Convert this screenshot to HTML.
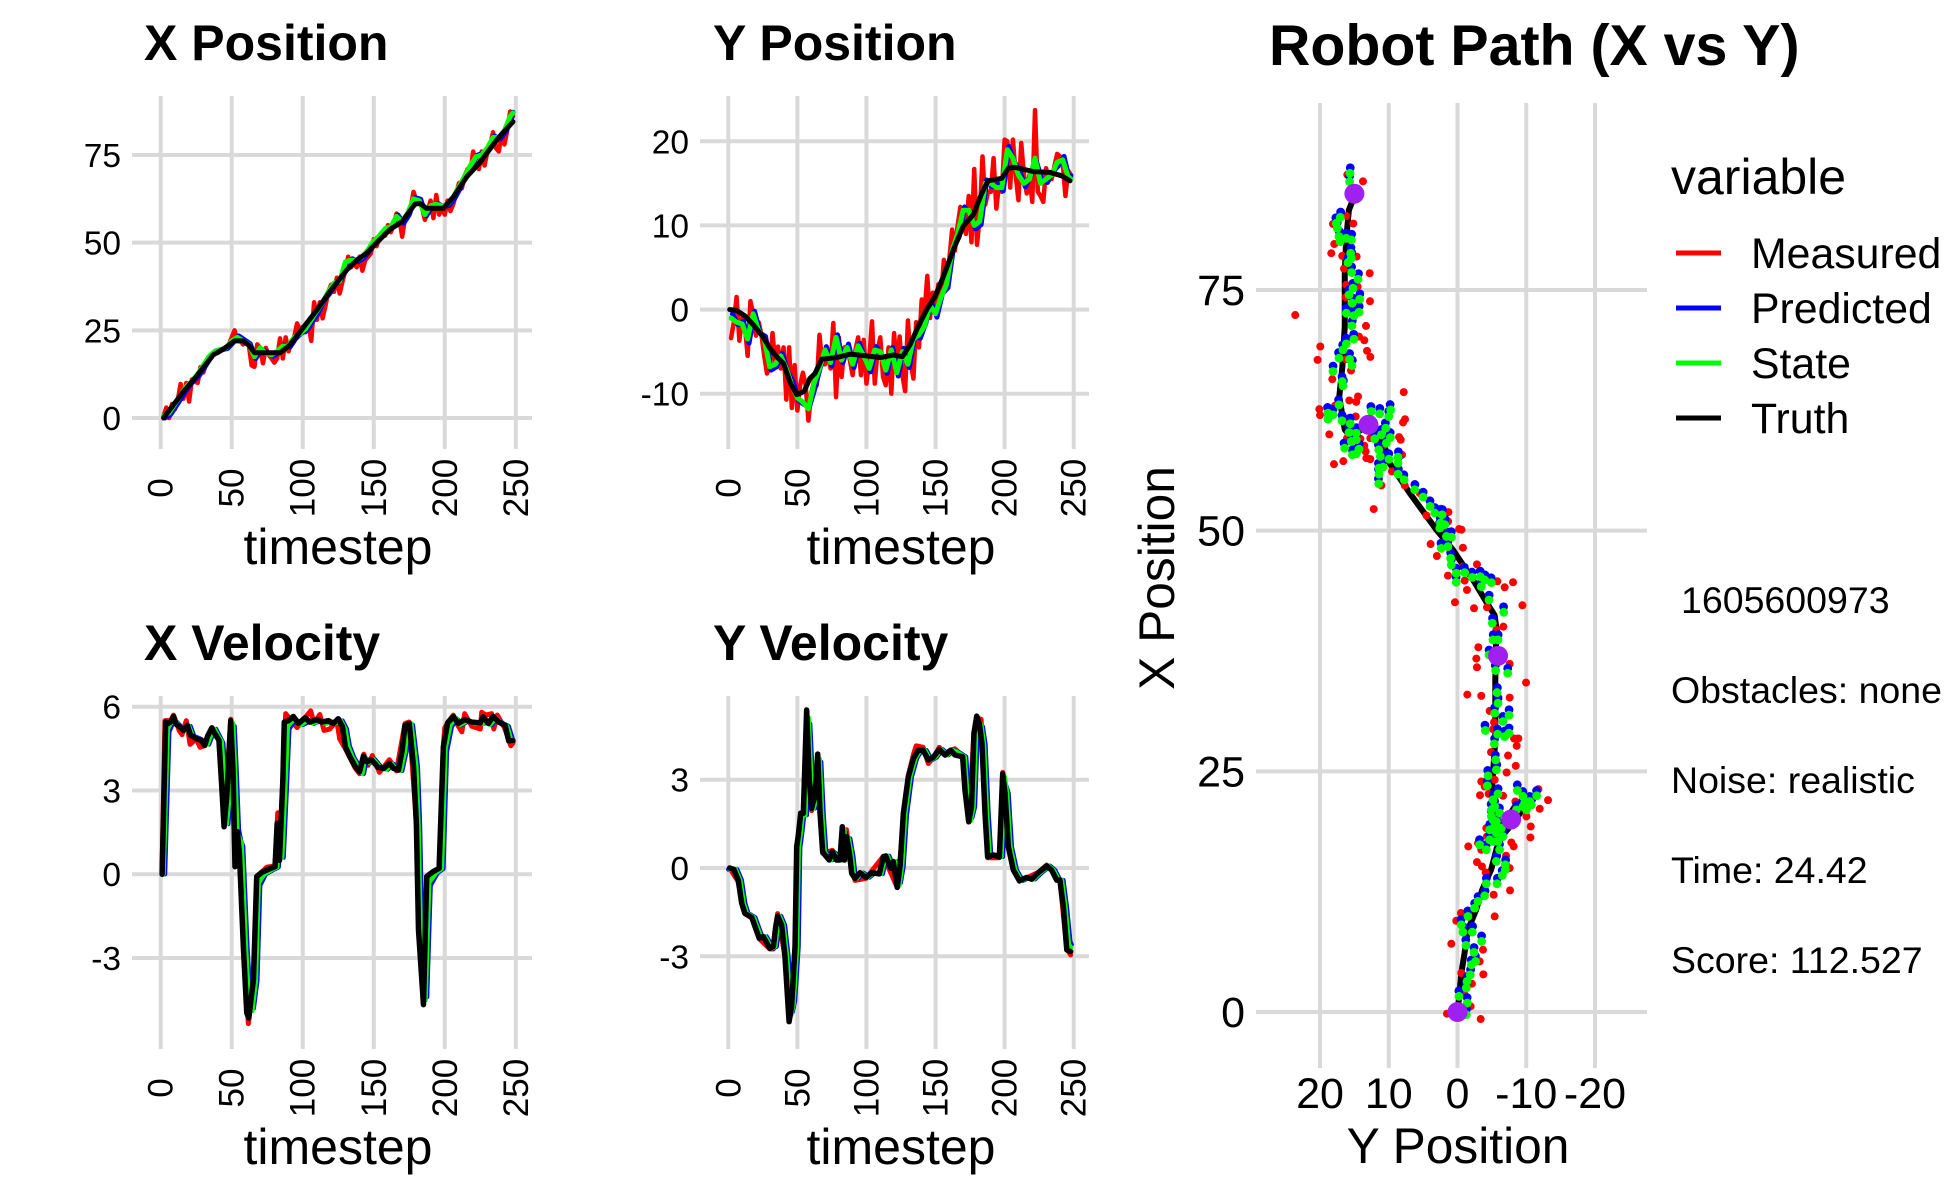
<!DOCTYPE html>
<html lang="en">
<head>
<meta charset="utf-8">
<title>Robot Path Dashboard</title>
<style>
html,body{margin:0;padding:0;background:#fff;width:1950px;height:1200px;overflow:hidden}
svg{display:block;font-family:"Liberation Sans",sans-serif}
text{fill:#000}
.title{font-size:50px;font-weight:700}
.axt{font-size:50px}
</style>
</head>
<body>
<svg id="chart" xmlns="http://www.w3.org/2000/svg" width="1950" height="1200" viewBox="0 0 1950 1200">
<rect x="0" y="0" width="1950" height="1200" fill="#fff"/>
<g id="panels"></g>
<text class="title" x="144" y="60">X Position</text>
<text class="title" x="713" y="60">Y Position</text>
<text class="title" x="144" y="660">X Velocity</text>
<text class="title" x="713" y="660">Y Velocity</text>
<text class="axt" x="338" y="564" text-anchor="middle">timestep</text>
<text class="axt" x="901" y="564" text-anchor="middle">timestep</text>
<text class="axt" x="338" y="1164" text-anchor="middle">timestep</text>
<text class="axt" x="901" y="1164" text-anchor="middle">timestep</text>
<text x="1269" y="65" font-size="57.3" font-weight="700">Robot Path (X vs Y)</text>
<text x="1458" y="1163" font-size="49.7" text-anchor="middle">Y Position</text>
<text transform="translate(1174,578) rotate(-90)" font-size="49.7" text-anchor="middle">X Position</text>
<g>
<text x="1671" y="194" font-size="50">variable</text>
<line x1="1676" x2="1721" y1="253" y2="253" stroke="#ff0000" stroke-width="5"/>
<text x="1751" y="268" font-size="42.8">Measured</text>
<line x1="1676" x2="1721" y1="308" y2="308" stroke="#0000ff" stroke-width="5"/>
<text x="1751" y="323" font-size="42.8">Predicted</text>
<line x1="1676" x2="1721" y1="363" y2="363" stroke="#00ff00" stroke-width="5"/>
<text x="1751" y="378" font-size="42.8">State</text>
<line x1="1676" x2="1721" y1="418" y2="418" stroke="#000000" stroke-width="5"/>
<text x="1751" y="433" font-size="42.8">Truth</text>
</g>
<g font-size="37.5">
<text x="1681" y="613">1605600973</text>
<text x="1671" y="703">Obstacles: none</text>
<text x="1671" y="793">Noise: realistic</text>
<text x="1671" y="883">Time: 24.42</text>
<text x="1671" y="973">Score: 112.527</text>
</g>
</svg>
<script>
const timeTicks=[0,50,100,150,200,250];
const xPosTicks=[0,25,50,75];
const yPosTicks=[-10,0,10,20];
const xVelTicks=[-3,0,3,6];
const yVelTicks=[-3,0,3];
const pathYTicks=[20,10,0,-10,-20];
const pathXTicks=[0,25,50,75];

/* position panels: truth = [timestep,value]; measured sampled every 2 steps from t=2; state/predicted every 4 steps from t=2 */
const xPosTruth=[[2,0],[15,7],[25,11.8],[37,18],[45,19.9],[52,22],[58,22],[62,20.8],[66,18.6],[84,18.6],[91,20.8],[100,25.6],[110,30.8],[119,36],[131,42.2],[138,45],[145,47],[152,50],[161.5,53.8],[170,56],[179,61],[182.6,61.2],[187,59.8],[199,59.8],[206,63],[215.5,68.8],[225,73],[236.6,79.3],[248,84.5]];
const xPosMeasured=[0.5,3,0,4,2.5,5,9.7,5.5,10,4.7,11,10.5,10,14.5,13,15.5,16.5,18,19,18.5,19,19.5,19.8,21,23,25,22,22,21,21.5,21,15,14.6,21,20,15.6,20,18,17,15.8,17,22.7,17,23,19,22,23,27,25,26,24.5,27,22,33,28,33,28.4,32,36,38,36,40,35.5,39,42,46,43,44,43,46,42,45,46,47,51,49,52,53,52,55,53,55,58.3,57,51.7,57,58,60,64.5,62,62,60,56.5,59,62,57,63.6,58,60,58,62,59,61,64,67,65.5,69,71,70,76,72,71,76,72,76,78,81.5,77,76,81,78,82,87.4,86];
const xPosState=[0.5,1.5,4,6.5,9,10.5,12.5,15,17.5,19,19.5,20,22,23,22,21,17.5,20,18.5,18,19,20.5,20.5,23,24,25.5,28,30.5,33,36,38.5,39,44.5,45,45,46,48,50.5,52,54,54.5,57.5,56,58.5,62.5,62,58,60.5,61,60.5,61,63,66,69,72,74.5,75,77,80,80,82,86,87];
const xPosPredicted=[0,1,3.5,6,8.5,10.5,12,14.5,17,19.2,19.5,19.8,21.5,23.4,22.3,21.2,17,19.6,18.8,17.6,18.6,20.8,20.2,22.6,24.2,25,27.5,30,33.5,35.5,38,39.4,44,45.4,44.6,45.6,47.6,50,52.2,53.6,55,57.9,55.5,58,62.8,62.4,57.6,60.2,61.2,60.2,60.6,62.6,65.6,69.4,71.6,75,75.4,77.4,80.4,79.6,81.6,85.6,87.2];

const yPosTruth=[[1,0],[6,-0.1],[12,-0.75],[18,-1.8],[25,-3.2],[30,-4.6],[35,-5.6],[40,-6.4],[44.6,-8.6],[49.5,-10.1],[54.8,-9.75],[59,-8.2],[62.7,-7.6],[67.6,-5.9],[78.4,-5.7],[88,-5.3],[100,-5.5],[110,-5.7],[119.5,-5.4],[126,-5.6],[131.5,-4.2],[137.5,-2],[143.6,0],[149.6,1.55],[155.6,3.9],[162.9,7.1],[170,9.9],[177.4,11.3],[183.4,13.8],[188,15.3],[198,15.6],[202.7,16.8],[207.5,16.9],[220.8,16.4],[232.9,16.3],[241.3,15.9],[247.3,15.3]];
const yPosMeasured=[-3.4,-1.5,1.5,-3.7,-1,-2,-5.5,1,-0.5,-3.1,-1.5,-3,-5.5,-7.6,-6.8,-2.8,-6.5,-4.4,-7,-4.5,-10.7,-4.5,-11.7,-6.6,-12,-9,-7.5,-9,-13.2,-10,-8.5,-9,-3,-6.5,-6.5,-5,-7,-1.6,-10.4,-3.3,-8,-4.5,-4.4,-6,-7.8,-4.8,-3.3,-7.8,-3.6,-8.8,-6,-1.4,-8.8,-5,-3.3,-8,-9,-4.5,-10,-2.8,-7.5,-3.2,-7.8,-9.7,-1.3,-6.3,-8.2,-1.5,-4.5,1.2,-0.5,4,-1,2,-0.3,3,1.4,5.9,3.5,6,9.5,7,10,12.2,11,9,13.5,8,16.7,7.7,11,18.2,12.5,14,14,18,12,15,14,20.2,20,14.5,20.2,16,13,19.8,16,13.8,16,12.8,23.7,14,13.5,12.8,16.8,15.5,15.5,17,18.5,18.2,17.5,13.5,16.5,16];
const yPosState=[-1,-1.5,-1.7,-3.5,-0.5,-2.5,-3.5,-6.8,-6.5,-5.5,-7,-9,-10.5,-11,-11.8,-8.8,-7,-4.8,-6.3,-3.3,-6,-4.5,-6.5,-4.3,-5.5,-7,-4.8,-5,-7.2,-4.8,-7.5,-5,-6.5,-3.5,-3,-2,0.5,-0.5,1.5,3,7,9,11.8,11.8,10,10.5,15,15,14.5,14.5,19,18,16,15,15.5,18,15,15.5,16,17.5,17.8,15.8,15.5];
const yPosPredicted=[-0.5,-1.8,-1.4,-4,-0.2,-2.8,-3.2,-7.2,-6.8,-5.2,-7.4,-8.6,-10.8,-11.3,-11.4,-9.2,-6.6,-4.4,-6.7,-3,-6.3,-4.1,-6.9,-4,-5.9,-7.4,-4.4,-5.4,-7.6,-4.5,-7.9,-4.6,-6.9,-3.1,-3.4,-1.6,0.9,-0.9,1.9,2.6,7.4,8.6,12.2,11.4,9.6,10.1,15.4,14.6,14.9,14.1,19.4,17.6,16.4,14.6,15.9,17.6,15.4,15.1,16.4,17.1,18.2,15.4,15.9];

const xVelTruth=[[1,0],[3.5,5.45],[5.4,5.4],[7,5.45],[9,5.65],[11,5.37],[13.6,5.27],[16,5.15],[18.8,5.33],[21,4.98],[25,4.86],[28.4,4.8],[31,4.62],[33,4.94],[36,5.24],[38,5.04],[41,4.8],[43,3.13],[44.6,1.7],[46.5,2.78],[49.3,5.5],[51,3.6],[52.3,0.27],[54,1.52],[55.4,0.75],[58.2,-2.6],[60.6,-4.97],[62,-5.15],[65.3,-3.78],[67.6,-0.08],[71,0.06],[76,0.18],[80.5,0.27],[82,1.82],[83.6,0.5],[86,3.37],[87,5.45],[90,5.5],[93.4,5.65],[97,5.4],[101.6,5.6],[105,5.45],[110,5.54],[113.4,5.45],[118,5.5],[121.6,5.4],[125,5.57],[128,5.28],[130,4.56],[133.3,4.2],[137,3.85],[140,3.67],[142.7,4.23],[145,4.03],[148.6,4.09],[153,3.83],[157,3.79],[161,3.97],[164,3.79],[167.4,3.73],[170,4.44],[172,5.33],[175,5.4],[178,3.85],[180,1.82],[181.5,-2],[185,-4.67],[187.3,-0.08],[192,0.1],[196,0.21],[199,4.56],[202,5.42],[206,5.64],[209.6,5.4],[214,5.54],[219,5.45],[225,5.42],[227,5.64],[230.7,5.4],[234,5.65],[238,5.45],[242.5,5.33],[245,4.78],[248,4.78]];
const xVelState=[[2,0],[5,5.2],[7,5.4],[10.5,5.5],[13,5.3],[15,5.25],[17.5,5.15],[20,5.3],[22.5,4.95],[27,4.85],[30,4.75],[33,4.65],[36,5.05],[38,5.2],[40,5],[43,4.75],[45,3.1],[46.5,1.8],[48.5,2.8],[51,5.4],[52.5,3.6],[54,1.5],[55.5,1.3],[57,1.1],[60,-2.6],[62.5,-4.9],[64.5,-4.9],[67,-3.8],[69,-0.3],[73,0],[78,0.15],[82,0.25],[84,1.6],[85.5,0.6],[88,3.4],[89.5,5.3],[92,5.45],[95,5.55],[99,5.35],[103,5.5],[107,5.4],[112,5.5],[115,5.4],[120,5.45],[123,5.4],[127,5.5],[130,5.2],[132,4.6],[135,4.2],[139,3.85],[142,3.6],[144,4.2],[147,4],[150,4.1],[155,3.8],[159,3.75],[163,3.95],[166,3.75],[169,3.7],[172,4.4],[174,5.3],[176.5,5.4],[180,3.85],[181.5,1.8],[183,-2],[186.5,-4.5],[189,-0.3],[194,0.05],[198,0.2],[200.5,4.5],[204,5.35],[208,5.6],[211,5.35],[216,5.5],[221,5.4],[227,5.4],[229,5.55],[232,5.35],[236,5.6],[240,5.4],[244,5.3],[247,4.75],[248,4.75]];
const xVelPredicted=[[3,0],[6,5.1],[8,5.35],[11.5,5.45],[14,5.3],[16,5.25],[18.5,5.15],[21,5.3],[23.5,4.95],[28,4.85],[31,4.75],[34,4.65],[37,5.05],[39,5.2],[41,5],[44,4.7],[46,3.1],[47.5,1.8],[49.5,2.8],[52,5.3],[53.5,3.6],[55,1.6],[56.5,1.2],[58,1],[61,-2.6],[63.5,-4.8],[65.5,-4.8],[68,-3.8],[70,-0.4],[74,0],[79,0.15],[83,0.25],[85,1.5],[86.5,0.6],[89,3.4],[90.5,5.2],[93,5.4],[96,5.5],[100,5.35],[104,5.45],[108,5.4],[113,5.5],[116,5.4],[121,5.45],[124,5.4],[128,5.5],[131,5.2],[133,4.6],[136,4.2],[140,3.85],[143,3.6],[145,4.15],[148,4],[151,4.1],[156,3.8],[160,3.75],[164,3.95],[167,3.75],[170,3.7],[173,4.4],[175,5.25],[177.5,5.35],[181,3.85],[182.5,1.8],[184,-2],[187.5,-4.4],[190,-0.4],[195,0.05],[199,0.2],[201.5,4.4],[205,5.3],[209,5.55],[212,5.35],[217,5.5],[222,5.4],[228,5.4],[230,5.5],[233,5.35],[237,5.55],[241,5.4],[245,5.3],[248,4.8]];
const xVelMeasured=[[1,0.3],[3,5.5],[7,5.5],[9,5.7],[13,5.15],[15,5],[18,5.5],[20.7,4.65],[25,4.85],[27.7,4.55],[31,4.6],[36,5.25],[41,4.8],[44.6,1.8],[49.3,5.55],[52.3,0.4],[56,1.3],[58.5,-2.6],[61.7,-5.35],[65.3,-3.8],[67.6,-0.1],[74.6,0.25],[80.5,0.3],[82.4,2.2],[83.6,0.6],[88,5.75],[92,5.5],[96,5.25],[105.6,5.85],[108,5.4],[112,5.72],[115,5.15],[119,5.2],[124,5.5],[126,4.85],[130,4.5],[137,3.8],[140,3.6],[143,4.3],[146,3.9],[149,4.25],[154,3.65],[161,4.1],[166,3.7],[172,5.4],[175,5.45],[180,1.8],[185,-4.6],[187.3,-0.1],[196,0.2],[199,4.6],[200,5.25],[203,5.5],[206,5.7],[209,5.35],[212,5.1],[214,5.75],[219,5.3],[225,5.2],[226,5.8],[229,5.7],[233,5.75],[234.5,5.2],[237,5.7],[242,5.25],[246.5,4.6],[248,4.7]];

const yVelTruth=[[1,0],[4,-0.05],[7.2,-0.41],[9.7,-1.2],[12,-1.54],[17,-1.68],[22.4,-2.39],[25.3,-2.33],[30,-2.73],[32.6,-2.67],[34.3,-2],[35.7,-1.63],[38.6,-1.94],[41,-3],[44,-5.22],[45.8,-4.71],[48.3,-2.67],[49.5,0.72],[50.7,1.12],[52.4,1.86],[54.3,1.86],[56.7,5.37],[58.6,3],[60.3,2.03],[62.7,2.48],[64.7,3.87],[66.4,1.86],[68.3,0.55],[70,0.44],[73,0.27],[75.3,0.55],[78.4,0.27],[80.8,0.27],[82.5,1.4],[84,0.27],[85.7,1.06],[88,0.38],[89.3,-0.18],[91.7,-0.35],[95.3,-0.16],[99.7,-0.32],[103.8,-0.16],[109.3,-0.2],[112.2,0.38],[114,0.41],[117.5,-0.01],[119.4,0.22],[122.3,-0.66],[124.3,0.05],[126.7,1.86],[130.3,3.1],[134,3.72],[137.5,4],[141,4],[144.8,3.67],[148.4,3.76],[152.7,4.03],[156.9,3.84],[161,4],[164,3.84],[169.6,3.78],[171.3,2.65],[174,1.57],[176,2.08],[177.8,4.57],[179.8,5.16],[181.7,4.91],[183.6,4.23],[185.8,1.86],[187.7,0.38],[191.8,0.44],[196.2,0.38],[198.6,3.2],[200.3,2.54],[202.7,0.72],[206.3,-0.07],[210.7,-0.43],[216,-0.32],[219.6,-0.38],[224.4,-0.16],[230.5,0.07],[234,-0.07],[237.7,-0.41],[240,-0.41],[242.5,-1.31],[245,-2.78],[247.8,-2.84]];
const yVelState=[[1,-0.05],[5.5,-0.05],[8.7,-0.41],[11.2,-1.2],[13.5,-1.54],[18.5,-1.68],[24,-2.39],[26.8,-2.33],[31.5,-2.73],[34,-2.67],[35.8,-2],[37.2,-1.63],[40,-1.94],[42.5,-3],[45.5,-5],[47.3,-4.6],[49.8,-2.67],[51,0.7],[52.2,1.1],[53.9,1.8],[55.8,1.8],[58.2,5.1],[60.1,3],[61.8,2.03],[64.2,2.45],[66.2,3.7],[67.9,1.86],[69.8,0.55],[71.5,0.44],[74.5,0.27],[76.8,0.5],[79.9,0.27],[82.3,0.27],[84,1.3],[85.5,0.3],[87.2,1],[89.5,0.38],[90.8,-0.18],[93.2,-0.35],[96.8,-0.16],[101.2,-0.32],[105.3,-0.16],[110.8,-0.2],[113.7,0.38],[115.5,0.41],[119,-0.01],[120.9,0.22],[123.8,-0.6],[125.8,0.05],[128.2,1.86],[131.8,3.1],[135.5,3.72],[139,4],[142.5,4],[146.3,3.67],[149.9,3.76],[154.2,4.03],[158.4,3.84],[162.5,4],[165.5,3.95],[171.1,3.78],[172.8,2.65],[175.5,1.6],[177.5,2.08],[179.3,4.5],[181.3,5],[183.2,4.85],[185.1,4.2],[187.3,1.86],[189.2,0.4],[193.3,0.44],[197.7,0.38],[200.1,3.1],[201.8,2.54],[204.2,0.72],[207.8,-0.07],[212.2,-0.43],[217.5,-0.32],[221.1,-0.38],[225.9,-0.16],[232,0.07],[235.5,-0.07],[239.2,-0.41],[241.5,-0.41],[244,-1.31],[246.5,-2.6],[248,-2.7]];
const yVelPredicted=[[0,-0.05],[6.5,-0.05],[9.7,-0.41],[12.2,-1.2],[14.5,-1.54],[19.5,-1.68],[25,-2.39],[27.8,-2.33],[32.5,-2.73],[35,-2.67],[36.8,-2],[38.2,-1.63],[41,-1.94],[43.5,-3],[46.5,-4.9],[48.3,-4.5],[50.8,-2.67],[52,0.7],[53.2,1.1],[54.9,1.8],[56.8,1.8],[59.2,4.9],[61.1,3],[62.8,2.03],[65.2,2.45],[67.2,3.6],[68.9,1.86],[70.8,0.55],[72.5,0.44],[75.5,0.27],[77.8,0.5],[80.9,0.27],[83.3,0.27],[85,1.2],[86.5,0.3],[88.2,1],[90.5,0.38],[91.8,-0.18],[94.2,-0.35],[97.8,-0.16],[102.2,-0.32],[106.3,-0.16],[111.8,-0.2],[114.7,0.38],[116.5,0.41],[120,-0.01],[121.9,0.22],[124.8,-0.5],[126.8,0.05],[129.2,1.8],[132.8,3.1],[136.5,3.72],[140,4],[143.5,4],[147.3,3.67],[150.9,3.76],[155.2,4.03],[159.4,3.84],[163.5,4],[166.5,3.95],[172.1,3.78],[173.8,2.65],[176.5,1.7],[178.5,2.08],[180.3,4.4],[182.3,4.9],[184.2,4.8],[186.1,4.2],[188.3,1.86],[190.2,0.45],[194.3,0.44],[198.7,0.38],[201.1,2.8],[202.8,2.54],[205.2,0.72],[208.8,-0.07],[213.2,-0.43],[218.5,-0.32],[222.1,-0.38],[226.9,-0.16],[233,0.07],[236.5,-0.07],[240.2,-0.41],[242.5,-0.41],[245,-1.31],[247.5,-2.5],[248.5,-2.6]];
const yVelMeasured=[[1,0],[7,-0.45],[12,-1.55],[17,-1.7],[22.4,-2.4],[30,-2.75],[32.6,-2.75],[35.7,-1.55],[41,-3],[44,-5.2],[48.3,-2.7],[50.7,1.1],[54.3,1.8],[56.7,5.3],[58.6,3.2],[60.3,1.95],[62.7,2.3],[64.7,3.85],[68.3,0.5],[75.3,0.6],[80.8,0.3],[84,0.3],[85.5,1.3],[88,0.4],[91.7,-0.42],[99.7,-0.35],[112.2,0.4],[122.3,-0.66],[130.3,3.15],[134,3.85],[136,4.15],[141,4.1],[144.8,3.55],[148.4,3.75],[152.7,4.1],[156.9,3.9],[161,4],[164,4.05],[169.6,3.8],[174,1.6],[177.8,4.6],[180,5.1],[183,5.05],[185.8,1.9],[187.7,0.35],[196.2,0.35],[198.6,3.25],[202.7,0.7],[210.7,-0.45],[224.4,-0.15],[230.5,0.1],[240,-0.4],[245,-2.75],[247.8,-2.95]];

/* path panel points: [y position, x position] */
const pathTruth=[[0,0],[-0.3,2],[-0.55,4],[-1,6],[-1.5,8.5],[-2.7,10.6],[-3.6,12.7],[-4.9,14.8],[-5.7,17],[-6.5,18.3],[-8.5,20],[-10,21.7],[-9.7,22.2],[-8.2,21.2],[-7.4,20.3],[-5.9,18.6],[-5.6,18.6],[-5.1,21],[-5.07,23.8],[-5.5,28.3],[-5.5,34.5],[-5.65,39.9],[-5.4,41.2],[-4.19,42.6],[-2.25,44.9],[0.66,48],[3.07,50.1],[6.95,53.9],[9.86,57],[10.6,58.7],[11.6,60.1],[13,61],[15,60],[15.6,59.8],[16.4,60.5],[17.2,63.9],[16.75,67],[16.4,71.2],[16.4,76.7],[16.2,80.2],[15.8,83.3],[15.2,84.4]];
const pathMeasured=[[16.03,86.98],[13.75,86.29],[16.17,82.69],[18.11,81.86],[15.15,81.9],[17.92,79.78],[18.36,78.82],[16.76,78.54],[14.67,78.47],[16.51,77.22],[12.77,76.74],[16.17,75.53],[14.52,75.36],[16.27,74.25],[12.73,73.83],[23.6,72.4],[13.31,71.27],[14.33,70.16],[13.55,69.78],[19.96,69.13],[13.16,68.68],[12.68,68.05],[20.35,67.74],[16.27,67.81],[15.49,66.63],[18.21,65.74],[7.82,64.39],[14.47,63.94],[15.74,63.52],[14.72,63.38],[17.82,62.97],[20.1,62.62],[20,62],[16.42,61.69],[14.81,61.86],[7.63,61.58],[7.92,61.24],[18.65,60],[8.5,59.72],[8.26,59.44],[16.07,59.61],[14.13,59.54],[12.68,59.61],[13.55,58.82],[13.36,58.23],[8.07,57.88],[13.26,57.54],[12.68,57.43],[16.61,57.22],[17.97,56.91],[10.59,58.92],[11.07,54.7],[9.52,56.15],[7.68,54.7],[12.19,52.24],[4.52,51.58],[2.43,52.28],[1.32,51.93],[-0.24,50.17],[-0.58,50.1],[5.49,53.9],[4.04,53.04],[1.37,50.96],[3.91,48.61],[-0.79,48.23],[3,47.37],[-2.83,46.5],[1.39,45.33],[-0.79,46.26],[-1.04,44.81],[-5.8,44.74],[-8.08,44.64],[-6.86,44.12],[-1.38,43.84],[0.37,42.56],[-2.4,41.94],[-9.44,42.25],[-4.29,42.04],[-6.67,40.03],[-5.65,39.69],[-3.03,37.89],[-2.74,36.71],[-2.83,35.81],[-7.59,36.16],[-9.97,34.22],[-1.43,32.97],[-3.46,32.84],[-7.59,32.66],[-4.68,31.28],[-5.31,30.1],[-5.16,29.38],[-8.22,28.41],[-8.85,28.41],[-8.61,27.65],[-4.87,26.99],[-7.35,26.64],[-8.47,25.57],[-7.15,24.88],[-3.46,23.94],[-5.41,24.12],[-3.95,23.42],[-3.27,22.52],[-4.53,22.66],[-6.62,22.46],[-11.77,23.15],[-13.17,22.01],[-11.96,21.11],[-8.42,21.87],[-10.02,20.31],[-10.65,19.27],[-10.6,18.13],[-4.19,19.1],[-4.29,18.24],[-1.57,17.2],[-2.98,17.54],[-3.46,16.85],[-7.83,17.61],[-8.17,17.2],[-7.06,16.23],[-2.83,15.57],[-3.56,15.12],[-4.1,14.5],[-7.59,14.95],[-7.64,12.63],[-5.26,12.18],[-5.41,9.93],[-0.5,10.28],[0.18,9.48],[0.9,7.09],[-3.71,6.47],[-3.22,5.26],[-3.76,3.91],[-0.55,4.05],[-2.1,2.94],[-1.04,1.8],[-1.91,0.59],[-3.37,-0.73],[1.53,-0.18]];
const pathState=[[15.64,87.12],[15.69,86.25],[17.05,82.55],[17.63,81.93],[17.48,81.41],[17.24,80.55],[17.05,80.03],[16.17,80.37],[15.44,80.2],[15.54,78.82],[15.44,78.3],[15.93,77.85],[15.4,76.81],[14.47,76.12],[15.2,75.18],[15.78,74.49],[15.3,73.63],[14.23,74.04],[14.33,72.69],[16.17,72.59],[15.06,72.34],[15.35,71.27],[15.06,69.89],[16.17,69.4],[16.66,68.78],[17.24,67.92],[15.69,67.81],[15.35,67.15],[18.11,66.53],[16.76,65.49],[16.66,65.04],[17.24,63.07],[18.84,62.21],[18.11,62.03],[18.84,61.58],[16.8,61.41],[15.59,61.1],[12.53,62.38],[11.32,62.14],[9.72,62.55],[10.01,61.86],[10.44,60.65],[11.07,59.96],[9.76,59.68],[10.35,59.09],[12.05,59.54],[15.78,60.2],[14.72,60.13],[15.44,59.27],[14.72,59.44],[16.42,58.57],[14.33,58.47],[14.72,57.98],[15.3,57.88],[11.46,58.4],[11.22,57.71],[9.96,57.43],[8.65,57.64],[8.65,57.02],[11.42,56.5],[10.83,56.6],[11.42,55.87],[11.46,54.87],[8.65,55.87],[7.77,55.29],[6.22,54.25],[5.01,53.49],[3.99,52.52],[3.31,51.83],[2.24,51.65],[2.48,50.79],[2.58,50.27],[1.85,50.62],[1.61,49.4],[0.88,49.33],[2.36,48.16],[1.39,48.34],[1,47.13],[0.9,46.43],[0.18,45.57],[-1.04,45.64],[-2.15,45.15],[-3.32,45.22],[-3.95,44.88],[-4.92,44.6],[-3.46,44.19],[0.18,44.64],[-4.58,42.8],[-6.72,41.52],[-5.07,40.38],[-5.16,38.65],[-5.89,38.65],[-4.58,37.09],[-5.55,35.47],[-7.3,35.19],[-5.75,33.18],[-5.89,32.07],[-5.41,31.04],[-7.49,30.83],[-6.62,30.17],[-4.05,29.24],[-5.84,28.86],[-7.49,28.96],[-6.86,28.61],[-5.36,27.85],[-5.55,26.19],[-5.65,25.15],[-4.44,24.53],[-4.34,23.5],[-5.89,22.66],[-8.71,23.01],[-9.53,22.39],[-10.75,21.52],[-11.52,22.46],[-10.02,21],[-4.92,21],[-5.65,19.79],[-5.65,18.58],[-5.16,17.71],[-3.22,17.37],[-4.19,16.85],[-6.13,16.85],[-5.65,15.64],[-6.96,15.29],[-6.96,14.77],[-6.52,14.19],[-5.75,13.32],[-4.19,13.32],[-3.95,12.07],[-2.98,11.49],[-2.49,10.79],[-1.52,9.93],[-0.55,9.06],[-0.79,8.3],[-2.15,8.3],[-1.23,6.92],[-3.51,7.33],[-2.4,6.19],[-2.64,5.26],[-2.01,4.91],[-1.86,3.87],[-1.38,3.18],[-1.28,2.49],[-0.21,1.63],[-1.43,0.93],[-1.28,-0.28],[-6.62,18.23],[-4.68,18.93],[-9.53,21.35],[-8.56,21],[-5.16,22.04],[-5.41,21.35],[-4.92,20.31],[-6.13,20.66],[-5.41,19.27],[-6.38,19.1],[-4.68,17.89],[-5.89,17.71],[-5.16,19.96],[-9.78,21.7],[-10.5,21.87]];
const pathPredicted=[[15.6,87.7],[15.7,86.8],[17,83.1],[17.7,82.5],[17.5,82],[17.2,81.1],[17.1,80.6],[16.2,80.9],[15.4,80.8],[15.5,79.4],[15.4,78.9],[15.9,78.4],[15.4,77.4],[14.4,76.7],[15.2,75.7],[15.8,75],[15.3,74.2],[14.2,74.6],[14.3,73.3],[16.2,73.1],[15.1,72.9],[15.3,71.8],[15.1,70.4],[16.2,70],[16.7,69.3],[17.3,68.5],[15.7,68.4],[15.3,67.7],[18.1,67.1],[16.8,66],[16.6,65.6],[17.3,63.6],[18.9,62.8],[18.1,62.6],[18.8,62.1],[16.8,62],[15.6,61.7],[12.6,62.9],[11.3,62.7],[9.8,63.1],[10,62.4],[10.5,61.2],[11.1,60.5],[9.8,60.2],[10.4,59.6],[12.1,60.1],[15.8,60.8],[14.7,60.7],[15.4,59.8],[14.7,60],[16.5,59.1],[14.3,59],[14.7,58.5],[15.3,58.4],[11.5,58.9],[11.2,58.3],[10,58],[8.6,58.2],[8.6,57.6],[11.5,57],[10.8,57.2],[11.5,56.4],[11.5,55.4],[8.6,56.4],[7.8,55.8],[6.2,54.8],[5,54],[4,53.1],[3.3,52.4],[2.2,52.2],[2.5,51.3],[2.6,50.8],[1.8,51.2],[1.6,49.9],[0.9,49.9],[2.4,48.7],[1.4,48.9],[1,47.7],[0.9,47],[0.2,46.1],[-1,46.2],[-2.1,45.7],[-3.3,45.8],[-4,45.4],[-4.9,45.1],[-3.5,44.7],[0.2,45.2],[-4.6,43.3],[-6.7,42.1],[-5.1,40.9],[-5.2,39.2],[-5.9,39.2],[-4.6,37.6],[-5.5,36],[-7.3,35.7],[-5.8,33.7],[-5.9,32.6],[-5.4,31.6],[-7.5,31.4],[-6.6,30.7],[-4,29.8],[-5.8,29.4],[-7.5,29.5],[-6.9,29.2],[-5.4,28.4],[-5.5,26.7],[-5.7,25.7],[-4.4,25.1],[-4.3,24],[-5.9,23.2],[-8.7,23.6],[-9.5,22.9],[-10.8,22.1],[-11.5,23],[-10,21.5],[-4.9,21.6],[-5.7,20.3],[-5.7,19.1],[-5.2,18.3],[-3.2,17.9],[-4.2,17.4],[-6.1,17.4],[-5.7,16.2],[-7,15.8],[-7,15.3],[-6.5,14.7],[-5.8,13.9],[-4.2,13.9],[-4,12.6],[-3,12],[-2.5,11.3],[-1.5,10.5],[-0.5,9.6],[-0.8,8.9],[-2.2,8.9],[-1.2,7.5],[-3.5,7.9],[-2.4,6.7],[-2.6,5.8],[-2,5.4],[-1.9,4.4],[-1.4,3.7],[-1.3,3],[-0.2,2.2],[-1.4,1.5],[-1.3,0.3],[-6.6,18.8],[-4.7,19.5],[-9.5,21.9],[-8.6,21.5],[-5.2,22.6],[-5.4,21.9],[-4.9,20.9],[-6.1,21.2],[-5.4,19.8],[-6.4,19.6],[-4.7,18.4],[-5.9,18.3],[-5.2,20.5],[-9.8,22.3],[-10.5,22.4]];
const pathMarkers=[[0,0],[-7.8,20],[-5.9,37],[12.95,61],[15,85]];

const NS='http://www.w3.org/2000/svg';
const panelsRoot=document.getElementById('panels');
function make(parent,tag,attrs){
  const el=document.createElementNS(NS,tag);
  for(const k in attrs){el.setAttribute(k,attrs[k]);}
  parent.appendChild(el);
  return el;
}
function linear(d0,r0,d1,r1){return function(v){return r0+(v-d0)*(r1-r0)/(d1-d0);};}
function drawFrame(group,f,sx,sy,xt,yt,rotated){
  const GRID='#d9d9d9';
  xt.forEach(function(v){
    const l=make(group,'line',{x1:sx(v),x2:sx(v),y1:f.top,y2:f.bottom+12,stroke:GRID,'stroke-width':4});
    
    
    const t=make(group,'text',rotated?{transform:'translate('+(sx(v)+12)+','+(f.bottom+51)+') rotate(-90)','font-size':35,'text-anchor':'middle'}:{x:sx(v),y:f.bottom+52,'font-size':43,'text-anchor':'middle'});
    t.textContent=String(v);
    
    
  });
  yt.forEach(function(v){
    const l=make(group,'line',{x1:f.left-12,x2:f.right,y1:sy(v),y2:sy(v),stroke:GRID,'stroke-width':4});
    
    
    const big=!rotated;
    const t=make(group,'text',{x:f.left-23,y:sy(v)+(big?15:12),'font-size':big?43:33.5,'text-anchor':'end'});
    t.textContent=String(v);
    
    
  });
}
function polyline(group,pts,color,width){
  const p=make(group,'polyline',{points:pts.map(function(q){return q[0].toFixed(2)+','+q[1].toFixed(2);}).join(' '),fill:'none',stroke:color,'stroke-width':width,'stroke-linejoin':'round','stroke-linecap':'round'});
  return p;
}
function drawPositionPanel(f,sx,sy,yt,truth,measured,predicted,state){
  const g=make(panelsRoot,'g',{});
  
  
  drawFrame(g,f,sx,sy,timeTicks,yt,true);
  const a=polyline(g,measured.map(function(v,i){return [sx(2+i*2),sy(v)];}),'#ff0000',4.5);
  
  
  const b=polyline(g,predicted.map(function(v,i){return [sx(Math.min(3+i*4,248)),sy(v)];}),'#0000ff',5);
  
  
  const c=polyline(g,state.map(function(v,i){return [sx(Math.min(2+i*4,248)),sy(v)];}),'#00ff00',5);
  
  
  const d=polyline(g,truth.map(function(q){return [sx(q[0]),sy(q[1])];}),'#000000',5);
  
  
}
function drawVelocityPanel(f,sx,sy,yt,truth,measured,predicted,state){
  const g=make(panelsRoot,'g',{});
  
  
  drawFrame(g,f,sx,sy,timeTicks,yt,true);
  const toXY=function(q){return [sx(q[0]),sy(q[1])];};
  const a=polyline(g,measured.map(toXY),'#ff0000',5);
  
  
  const b=polyline(g,predicted.map(toXY),'#0000ff',4.5);
  
  
  const c=polyline(g,state.map(toXY),'#00ff00',4.5);
  
  
  const d=polyline(g,truth.map(toXY),'#000000',5.5);
  
  
}
const col1X=linear(0,160.7,250,515.8);
const col2X=linear(0,728.3,250,1073.7);
drawPositionPanel({left:144,right:532,top:96,bottom:437},col1X,linear(0,418,75,155),xPosTicks,xPosTruth,xPosMeasured,xPosPredicted,xPosState);
drawPositionPanel({left:712,right:1089,top:96,bottom:437},col2X,linear(-10,393.7,20,141.3),yPosTicks,yPosTruth,yPosMeasured,yPosPredicted,yPosState);
drawVelocityPanel({left:144,right:532,top:696,bottom:1037},col1X,linear(-3,958,6,706.7),xVelTicks,xVelTruth,xVelMeasured,xVelPredicted,xVelState);
drawVelocityPanel({left:712,right:1089,top:696,bottom:1037},col2X,linear(-3,956.3,3,779.7),yVelTicks,yVelTruth,yVelMeasured,yVelPredicted,yVelState);

const pathX=linear(20,1320,-20,1595);
const pathY=linear(0,1012,75,290);
const pg=make(panelsRoot,'g',{});


drawFrame(pg,{left:1268,right:1647,top:103,bottom:1056},pathX,pathY,pathYTicks,pathXTicks,false);
const truthPath=polyline(pg,pathTruth.map(function(q){return [pathX(q[0]),pathY(q[1])];}),'#000000',6);


pathMeasured.forEach(function(q){
  const c=make(pg,'circle',{cx:pathX(q[0]),cy:pathY(q[1]),r:4,fill:'#ff0000'});
  
  
});
pathPredicted.forEach(function(q){
  const c=make(pg,'circle',{cx:pathX(q[0]),cy:pathY(q[1]),r:4.4,fill:'#0000ff'});
  
  
});
pathState.forEach(function(q){
  const c=make(pg,'circle',{cx:pathX(q[0]),cy:pathY(q[1]),r:4.4,fill:'#00ff00'});
  
  
});
pathMarkers.forEach(function(q){
  const c=make(pg,'circle',{cx:pathX(q[0]),cy:pathY(q[1]),r:10,fill:'#a020f0'});
  
  
});
</script>
</body>
</html>
